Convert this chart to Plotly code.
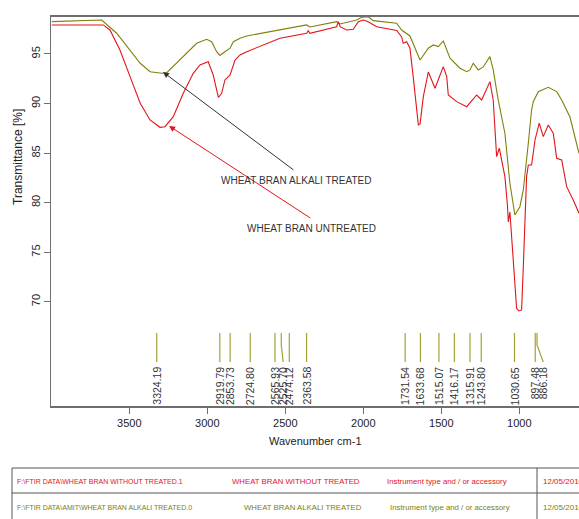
import plotly.graph_objects as go

# FTIR spectra of wheat bran (wavenumber in cm-1, transmittance in %)
untreated_wn = [3997, 3667, 3624, 3560, 3495, 3430, 3367, 3303, 3271, 3218, 3154, 3090, 3047,
                2994, 2962, 2929, 2908, 2887, 2854, 2822, 2790, 2747, 2534, 2363, 2353, 2342,
                2171, 2160, 2149, 2106, 2064, 2032, 2000, 1968, 1914, 1786, 1754, 1744, 1722,
                1701, 1680, 1647, 1636, 1615, 1583, 1540, 1487, 1465, 1455, 1401, 1337, 1273,
                1241, 1188, 1167, 1156, 1145, 1128, 1092, 1076, 1070, 1060, 1038, 1017, 1002,
                985, 974, 963, 953, 942, 921, 899, 872, 846, 814, 782, 760, 728, 696, 654, 617]
untreated_t = [97.93, 97.93, 97.42, 95.40, 92.71, 90.03, 88.34, 87.60, 87.66, 88.67, 91.03,
               93.05, 93.89, 94.22, 92.88, 90.61, 91.03, 92.38, 92.88, 94.39, 94.90, 95.23,
               96.58, 97.09, 97.35, 97.09, 97.75, 98.26, 97.75, 97.42, 97.49, 98.26, 98.43,
               98.26, 97.75, 97.37, 96.72, 96.08, 96.24, 95.61, 92.71, 87.84, 87.94, 90.69,
               93.18, 91.54, 93.72, 92.71, 90.86, 90.19, 89.68, 90.86, 90.36, 92.21, 90.36,
               87.00, 84.64, 85.49, 82.62, 79.76, 78.05, 79.06, 73.54, 69.34, 69.07, 69.17,
               73.54, 78.58, 82.62, 83.80, 83.80, 86.32, 88.01, 86.66, 87.84, 87.00, 84.48,
               84.30, 81.61, 80.27, 78.93]

treated_wn = [3997, 3677, 3581, 3495, 3430, 3367, 3292, 3260, 3175, 3068, 3004, 2972, 2940,
              2919, 2887, 2854, 2833, 2790, 2747, 2534, 2363, 2342, 2171, 2149, 2042, 2010,
              1968, 1936, 1786, 1754, 1701, 1636, 1583, 1551, 1519, 1487, 1444, 1380, 1337,
              1316, 1295, 1263, 1231, 1188, 1167, 1135, 1113, 1092, 1060, 1028, 996, 974,
              942, 921, 910, 878, 814, 760, 728, 675, 617]
treated_t = [98.26, 98.43, 97.09, 95.40, 94.06, 93.21, 93.05, 93.11, 94.39, 96.08, 96.48,
             96.24, 95.23, 94.85, 95.23, 95.58, 96.24, 96.58, 96.82, 97.42, 97.93, 97.72,
             98.26, 98.03, 98.43, 98.70, 98.76, 98.36, 98.10, 97.42, 96.82, 94.39, 95.58,
             95.91, 95.74, 96.31, 94.57, 93.56, 93.21, 93.39, 94.06, 93.39, 93.69, 94.73,
             93.39, 90.36, 88.67, 87.00, 81.95, 78.75, 79.59, 81.28, 85.99, 89.35, 90.19,
             91.20, 91.64, 91.20, 90.36, 88.64, 84.98]

# Picked peaks
peak_wn = [3324.19, 2919.79, 2853.73, 2724.80, 2565.93, 2525.70, 2474.12, 2363.58,
           1731.54, 1633.68, 1515.07, 1416.17, 1315.91, 1243.80, 1030.65, 897.48, 886.18]
peak_labels = [f"{v:.2f}" for v in peak_wn]

x_ticks = [3500, 3000, 2500, 2000, 1500, 1000]
y_ticks = [70, 75, 80, 85, 90, 95]

file_names = ["F:\\FTIR DATA\\WHEAT BRAN WITHOUT TREATED.1",
              "F:\\FTIR DATA\\AMIT\\WHEAT BRAN ALKALI TREATED.0"]
sample_names = ["WHEAT BRAN WITHOUT TREATED", "WHEAT BRAN ALKALI TREATED"]
instrument = ["Instrument type and / or accessory", "Instrument type and / or accessory"]
dates = ["12/05/2016", "12/05/2016"]

RED = "#e3141b"
OLIVE = "#80800a"
PEAK = "#a3a335"
AXIS = "#6e6e6e"
FONT = "Liberation Sans, Arial, sans-serif"

W, H = 579, 519
L, T, R, B = 51, 17, 0, 113
PW, PH = W - L - R, H - T - B


def px(x):
    return (x - L) / PW


def py(y):
    return (H - B - y) / PH


fig = go.Figure()
fig.add_trace(go.Scatter(x=treated_wn, y=treated_t, mode="lines",
                         line=dict(color=OLIVE, width=1.1), hoverinfo="skip"))
fig.add_trace(go.Scatter(x=untreated_wn, y=untreated_t, mode="lines",
                         line=dict(color=RED, width=1.1), hoverinfo="skip"))

# peak marker sticks; crowded labels are nudged sideways
label_shift = {2525.70: -12, 886.18: -40}
mark_top, mark_bot, label_top = 66.85, 63.92, 63.62
annotations = []
for w, lab in zip(peak_wn, peak_labels):
    wl = w + label_shift.get(w, 0)
    ys = [mark_top, mark_top - 1.2, mark_bot] if wl != w else [mark_top, mark_bot, mark_bot]
    fig.add_trace(go.Scatter(x=[w, w, wl], y=ys, mode="lines",
                             line=dict(color=PEAK, width=1.2), hoverinfo="skip"))
    annotations.append(dict(x=wl, y=label_top, xref="x", yref="y", text=lab, showarrow=False,
                            textangle=-90, xanchor="center", yanchor="top",
                            font=dict(family=FONT, size=10.5, color="#333333")))

# callouts
annotations += [
    dict(x=3284, y=93.18, ax=2438, ay=83.19, xref="x", yref="y", axref="x", ayref="y",
         text="", showarrow=True, arrowhead=2, arrowsize=1.2, arrowwidth=1,
         arrowcolor="#333333"),
    dict(x=3245, y=87.74, ax=2330, ay=78.35, xref="x", yref="y", axref="x", ayref="y",
         text="", showarrow=True, arrowhead=2, arrowsize=1.2, arrowwidth=1,
         arrowcolor=RED),
    dict(x=2429, y=82.19, xref="x", yref="y", text="WHEAT BRAN ALKALI TREATED",
         showarrow=False, font=dict(family=FONT, size=10, color="#333333")),
    dict(x=2332, y=77.44, xref="x", yref="y", text="WHEAT BRAN UNTREATED",
         showarrow=False, font=dict(family=FONT, size=10, color="#333333")),
    # axis titles
    dict(x=px(315), y=py(441), xref="paper", yref="paper", text="Wavenumber cm-1",
         xanchor="center", yanchor="middle",
         showarrow=False, font=dict(family=FONT, size=11, color="#222222")),
    dict(x=px(18), y=py(157), xref="paper", yref="paper", text="Transmittance [%]",
         xanchor="center", yanchor="middle",
         textangle=-90, showarrow=False, font=dict(family=FONT, size=12, color="#222222")),
]

# file information table under the plot
shapes = []
tbl_top, tbl_mid, tbl_bot, tbl_left, tbl_div = 468, 493, 521, 12, 537
for yy in (tbl_top, tbl_mid):
    shapes.append(dict(type="line", xref="paper", yref="paper", x0=px(tbl_left), x1=px(W + 5),
                       y0=py(yy), y1=py(yy), line=dict(color="#555555", width=1)))
for xx in (tbl_left, tbl_div):
    shapes.append(dict(type="line", xref="paper", yref="paper", x0=px(xx), x1=px(xx),
                       y0=py(tbl_top), y1=py(tbl_bot), line=dict(color="#555555", width=1)))

row_y = [481, 508]
row_colors = [RED, OLIVE]
col2_x = [230, 242]
col3_x = [385, 388]
for i in range(2):
    cells = ((file_names[i], 15, 7.0), (sample_names[i], col2_x[i], 7.8),
             (instrument[i], col3_x[i], 7.8), (dates[i], 541, 8.0))
    for text, xx, size in cells:
        annotations.append(dict(x=px(xx), y=py(row_y[i]), xref="paper", yref="paper",
                                text=text, showarrow=False, xanchor="left", yanchor="middle",
                                font=dict(family=FONT, size=size, color=row_colors[i])))

fig.update_layout(
    width=W, height=H, margin=dict(l=L, r=R, t=T, b=B, pad=0),
    paper_bgcolor="white", plot_bgcolor="white", showlegend=False,
    font=dict(family=FONT, size=11, color="#222222"),
    xaxis=dict(range=[4002, 617], autorange=False, tickvals=x_ticks, ticks="outside",
               ticklen=6, tickcolor=AXIS, showline=True, linecolor=AXIS, linewidth=2,
               mirror=True, showgrid=False, zeroline=False,
               tickfont=dict(family=FONT, size=11, color="#222222")),
    yaxis=dict(range=[59.48, 98.73], autorange=False, tickvals=y_ticks, ticks="outside",
               ticklen=6, tickcolor=AXIS, showline=True, linecolor=AXIS, linewidth=1,
               showgrid=False, zeroline=False, tickangle=-90,
               tickfont=dict(family=FONT, size=11, color="#222222")),
    annotations=annotations, shapes=shapes,
)

fig.write_html("out.html")
